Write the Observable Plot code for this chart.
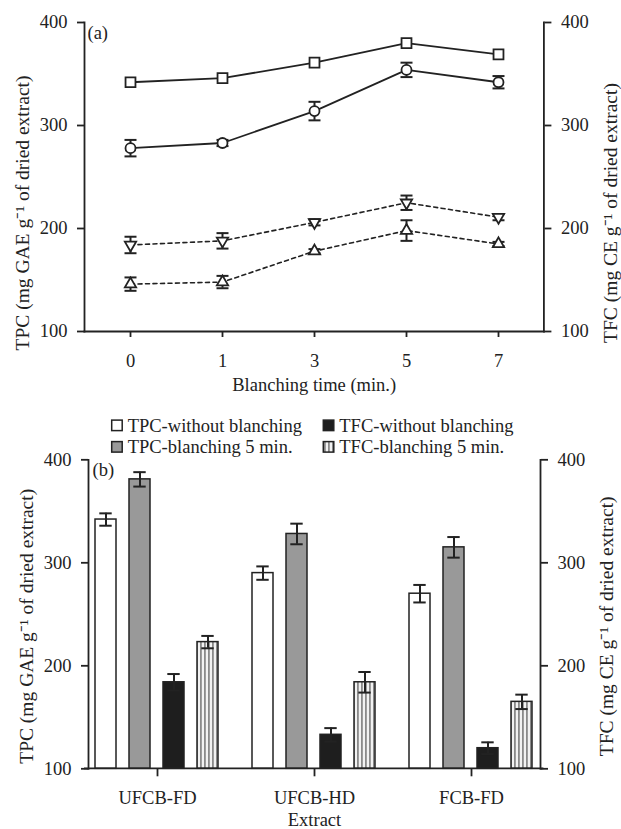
<!DOCTYPE html>
<html><head><meta charset="utf-8">
<script src="https://cdn.jsdelivr.net/npm/d3@7"></script>
<script src="https://cdn.jsdelivr.net/npm/@observablehq/plot@0.6"></script>
<style>
body{margin:0;background:#fff;}
#wrap{position:relative;width:621px;height:829px;font-family:"Liberation Serif",serif;color:#222;}
#wrap > svg{display:block;}
</style></head><body><div id="wrap"></div>
<script>
// ---------- Panel (a) data ----------
const times = ["0", "1", "3", "5", "7"];
const squareVals = [342, 346, 361, 380, 369];
const circleVals = [278, 283, 314, 354, 342];
const circleErr = [8, 3, 9, 7, 6];
const downTriVals = [184, 188, 206, 225, 211];
const downTriErr = [8, 7.5, 3, 7, 3];
const upTriVals = [146, 148, 178, 198, 185];
const upTriErr = [6.5, 6, 2, 10, 2];
const yTicks = [100, 200, 300, 400];

// ---------- Panel (b) data ----------
const extracts = ["UFCB-FD", "UFCB-HD", "FCB-FD"];
const barSeries = ["TPC-without blanching", "TPC-blanching 5 min.", "TFC-without blanching", "TFC-blanching 5 min."];
const tpcWithout = [342, 290, 270];
const tpcWithoutErr = [6, 6.5, 8.5];
const tpcBlanch = [381, 328, 315];
const tpcBlanchErr = [7, 10, 10];
const tfcWithout = [184, 133, 120];
const tfcWithoutErr = [8, 6.5, 5.7];
const tfcBlanch = [223, 184, 165];
const tfcBlanchErr = [6, 10, 7];

const leftTitle = "TPC (mg GAE g\u207B\u00B9 of dried extract)";
const rightTitle = "TFC (mg CE g\u207B\u00B9 of dried extract)";

const INK = "#222";
const FONT = "Liberation Serif";
const W = 621, ML = 84, MR = 77.6;

// ---------- build rows ----------
const lineRows = [];
function addSeries(name, kind, vals, errs) {
  times.forEach((t, i) => lineRows.push({series: name, kind, time: t, value: vals[i], err: errs ? errs[i] : 0}));
}
addSeries("square", "solid", squareVals, null);
addSeries("circle", "solid", circleVals, circleErr);
addSeries("triDown", "dashed", downTriVals, downTriErr);
addSeries("triUp", "dashed", upTriVals, upTriErr);
const errRows = lineRows.filter(d => d.err > 0);

const triangleDown = {
  draw(context, size) {
    const y = -Math.sqrt(size / (Math.sqrt(3) * 3));
    context.moveTo(0, -y * 2);
    context.lineTo(-Math.sqrt(3) * y, y);
    context.lineTo(Math.sqrt(3) * y, y);
    context.closePath();
  }
};
// error-bar cap: a short horizontal stroke
const capSymbol = {
  draw(context) {
    context.moveTo(-6, 0);
    context.lineTo(6, 0);
  }
};

const axisCommon = {ticks: yTicks, tickSize: 7, tickPadding: 10, label: null, strokeWidth: 1.8, fontSize: 18.5};
const dotStyle = {fill: "white", stroke: INK, strokeWidth: 1.8};

const topPlot = Plot.plot({
  width: W, height: 400,
  marginTop: 22, marginBottom: 69, marginLeft: ML, marginRight: MR,
  style: {fontFamily: FONT, fontSize: "18.5px", color: INK, background: "white", overflow: "visible"},
  x: {type: "point", domain: times, padding: 0.48},
  y: {domain: [yTicks[0], yTicks[yTicks.length - 1]]},
  marks: [
    Plot.frame({anchor: "left", stroke: INK, strokeWidth: 1.8}),
    Plot.frame({anchor: "right", stroke: INK, strokeWidth: 1.8}),
    Plot.frame({anchor: "bottom", stroke: INK, strokeWidth: 1.8}),
    Plot.axisY({anchor: "left", ...axisCommon}),
    Plot.axisY({anchor: "right", ...axisCommon}),
    Plot.axisX({tickSize: 6, tickPadding: 16, label: null, strokeWidth: 1.8, fontSize: 18.5}),
    Plot.line(lineRows, {filter: d => d.kind === "solid", x: "time", y: "value", z: "series", stroke: INK, strokeWidth: 1.8}),
    Plot.line(lineRows, {filter: d => d.kind === "dashed", x: "time", y: "value", z: "series", stroke: INK, strokeWidth: 1.6, strokeDasharray: "4,3.5"}),
    Plot.ruleX(errRows, {x: "time", y1: d => d.value - d.err, y2: d => d.value + d.err, stroke: INK, strokeWidth: 2}),
    Plot.dot(errRows, {x: "time", y: d => d.value - d.err, symbol: capSymbol, fill: "none", stroke: INK, strokeWidth: 2}),
    Plot.dot(errRows, {x: "time", y: d => d.value + d.err, symbol: capSymbol, fill: "none", stroke: INK, strokeWidth: 2}),
    Plot.dot(lineRows, {filter: d => d.series === "square", x: "time", y: "value", symbol: "square", r: 5.6, ...dotStyle}),
    Plot.dot(lineRows, {filter: d => d.series === "circle", x: "time", y: "value", symbol: "circle", r: 5, ...dotStyle}),
    Plot.dot(lineRows, {filter: d => d.series === "triDown", x: "time", y: "value", symbol: triangleDown, r: 4.2, ...dotStyle}),
    Plot.dot(lineRows, {filter: d => d.series === "triUp", x: "time", y: "value", symbol: "triangle", r: 4.2, ...dotStyle}),
    Plot.text(["(a)"], {frameAnchor: "top-left", textAnchor: "start", lineAnchor: "middle", dx: 3, dy: 11, fontSize: 18.5, fill: INK}),
    Plot.text(["Blanching time (min.)"], {frameAnchor: "bottom", lineAnchor: "middle", dy: 54, fontSize: 18.5, fill: INK}),
    Plot.text([leftTitle], {frameAnchor: "left", rotate: -90, textAnchor: "middle", lineAnchor: "middle", dx: -62, dy: 36, fontSize: 19.5, fill: INK}),
    Plot.text([rightTitle], {frameAnchor: "right", rotate: -90, textAnchor: "middle", lineAnchor: "middle", dx: 66.5, dy: 36, fontSize: 19.5, fill: INK})
  ]
});

// ---------- Panel (b) ----------
const barRows = [];
const seriesVals = [tpcWithout, tpcBlanch, tfcWithout, tfcBlanch];
const seriesErrs = [tpcWithoutErr, tpcBlanchErr, tfcWithoutErr, tfcBlanchErr];
const seriesFill = ["white", "#999999", "#1e1e1e", "url(#vstripes)"];
extracts.forEach((e, i) => barSeries.forEach((s, j) =>
  barRows.push({extract: e, series: s, value: seriesVals[j][i], err: seriesErrs[j][i]})));

const yMin = yTicks[0];
const barMarks = barSeries.map((s, j) => Plot.barY(barRows, {
  filter: d => d.series === s, fx: "extract", x: "series", y1: yMin, y2: "value",
  fill: seriesFill[j], stroke: INK, strokeWidth: 1.5
}));

const botPlot = Plot.plot({
  width: W, height: 429,
  marginTop: 59.3, marginBottom: 60.7, marginLeft: ML, marginRight: MR,
  style: {fontFamily: FONT, fontSize: "18.5px", color: INK, background: "white", overflow: "visible"},
  fx: {domain: extracts, paddingInner: 0.121, paddingOuter: 0.023, label: null},
  x: {domain: barSeries, paddingInner: 0.38, paddingOuter: 0.2, axis: null},
  y: {domain: [yTicks[0], yTicks[yTicks.length - 1]]},
  marks: [
    ...barMarks,
    Plot.ruleX(barRows, {fx: "extract", x: "series", y1: d => d.value - d.err, y2: d => d.value + d.err, stroke: INK, strokeWidth: 2}),
    Plot.tickY(barRows, {fx: "extract", x: "series", y: d => d.value - d.err, insetLeft: 4.3, insetRight: 4.3, stroke: INK, strokeWidth: 2}),
    Plot.tickY(barRows, {fx: "extract", x: "series", y: d => d.value + d.err, insetLeft: 4.3, insetRight: 4.3, stroke: INK, strokeWidth: 2}),
    Plot.frame({anchor: "left", facet: "super", stroke: INK, strokeWidth: 1.8}),
    Plot.frame({anchor: "right", facet: "super", stroke: INK, strokeWidth: 1.8}),
    Plot.axisY({anchor: "left", ...axisCommon}),
    Plot.axisY({anchor: "right", ...axisCommon}),
    Plot.axisFx({anchor: "bottom", tickSize: 8, tickPadding: 14, label: null, strokeWidth: 1.8, fontSize: 18.5}),
    Plot.text(["(b)"], {facet: "super", frameAnchor: "top-left", textAnchor: "start", lineAnchor: "middle", dx: 4, dy: 10.7, fontSize: 18.5, fill: INK}),
    Plot.text(["Extract"], {facet: "super", frameAnchor: "bottom", lineAnchor: "middle", dy: 51, fontSize: 18.5, fill: INK}),
    Plot.text([leftTitle], {facet: "super", frameAnchor: "left", rotate: -90, textAnchor: "middle", lineAnchor: "middle", dx: -62, dy: 12, fontSize: 19.5, fill: INK}),
    Plot.text([rightTitle], {facet: "super", frameAnchor: "right", rotate: -90, textAnchor: "middle", lineAnchor: "middle", dx: 66.5, dy: 12, fontSize: 19.5, fill: INK})
  ]
});

function addStripes(svg, id) {
  const defs = d3.select(svg).insert("defs", ":first-child");
  const p = defs.append("pattern").attr("id", id).attr("patternUnits", "userSpaceOnUse").attr("width", 4).attr("height", 10);
  p.append("rect").attr("width", 4).attr("height", 10).attr("fill", "#f2f2f2");
  p.append("rect").attr("width", 1.8).attr("height", 10).attr("fill", "#8a8a8a");
}
addStripes(botPlot, "vstripes");

// x-axis baseline of panel (b), placed with the plot's own y scale
const yScaleB = botPlot.scale("y");
d3.select(botPlot).append("line")
  .attr("x1", ML).attr("x2", W - MR)
  .attr("y1", yScaleB.apply(yMin)).attr("y2", yScaleB.apply(yMin))
  .attr("stroke", INK).attr("stroke-width", 1.8);

const wrap = document.getElementById("wrap");
wrap.appendChild(topPlot);
wrap.appendChild(botPlot);

// ---------- Legend (above panel b) ----------
const legend = d3.select(wrap).append("svg")
  .attr("width", W).attr("height", 60)
  .style("position", "absolute").style("left", "0px").style("top", "400px")
  .style("font-family", FONT).style("font-size", "18.5px");
addStripes(legend.node(), "vstripesLegend");
const legendFill = ["white", "#999999", "#1e1e1e", "url(#vstripesLegend)"];
const legendPos = [[111.7, 0], [111.7, 1], [323.3, 0], [323.3, 1]];
const rowBase = [31.6, 53.1];
barSeries.forEach((s, j) => {
  const [lx, row] = legendPos[j];
  const g = legend.append("g");
  g.append("rect").attr("x", lx).attr("y", rowBase[row] - 11.5).attr("width", 10.5).attr("height", 10.5)
    .attr("fill", legendFill[j]).attr("stroke", INK).attr("stroke-width", 1.5);
  g.append("text").attr("x", lx + 16).attr("y", rowBase[row]).attr("fill", INK).text(s);
});
</script></body></html>
